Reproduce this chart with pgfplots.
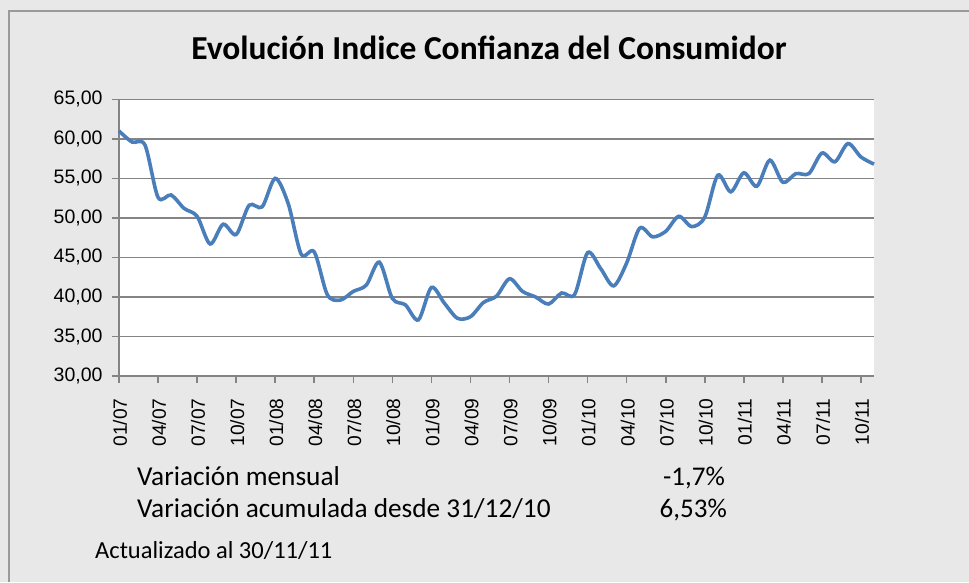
\documentclass[border=0pt]{standalone}
\usepackage{pgfplots}
\pgfplotsset{compat=1.18}
\usepackage{fontspec}
\setmainfont{Carlito}
\newfontfamily\tickfont{Liberation Sans}
\definecolor{bg}{HTML}{E8E8E8}
\definecolor{frame}{HTML}{9A9A9A}
\definecolor{gridc}{HTML}{848484}
\definecolor{linec}{HTML}{4A7EBB}
\pgfplotstableread{
x y
0 61.0
1 59.6
2 59.2
3 52.6
4 52.9
5 51.2
6 50.2
7 46.7
8 49.2
9 47.9
10 51.6
11 51.4
12 55.0
13 51.8
14 45.4
15 45.7
16 40.3
17 39.6
18 40.7
19 41.5
20 44.4
21 39.8
22 39.0
23 37.1
24 41.2
25 39.2
26 37.3
27 37.5
28 39.3
29 40.1
30 42.3
31 40.7
32 40.0
33 39.1
34 40.5
35 40.3
36 45.6
37 43.6
38 41.4
39 44.3
40 48.7
41 47.6
42 48.3
43 50.2
44 48.9
45 50.1
46 55.4
47 53.3
48 55.7
49 54.0
50 57.3
51 54.5
52 55.6
53 55.6
54 58.2
55 57.1
56 59.4
57 57.7
58 56.8
}\datatable
\begin{document}
\begin{tikzpicture}[x=1pt,y=1pt]
\fill[bg] (0,0) rectangle (969,582);
\draw[frame, line width=1.5pt] (9,0) -- (9,571) -- (969,571);
\begin{axis}[
  at={(119pt,206pt)}, anchor=south west,
  scale only axis, width=755pt, height=276.7pt,
  xmin=0, xmax=58, ymin=30, ymax=65,
  axis lines*=left,
  axis line style={gridc, line width=1.6pt},
  axis background/.style={fill=white},
  ymajorgrids, major grid style={gridc, line width=1.6pt},
  ytick={30,35,...,65},
  xtick={0,3,...,57},
  xticklabels={01/07,04/07,07/07,10/07,01/08,04/08,07/08,10/08,01/09,04/09,07/09,10/09,01/10,04/10,07/10,10/10,01/11,04/11,07/11,10/11},
  tick align=outside,
  tick style={gridc, line width=1.6pt},
  major tick length=7pt,
  /pgf/number format/.cd, fixed, fixed zerofill, precision=2, use comma, assume math mode=true,
  /pgfplots/.cd,
  ticklabel style={text=black},
  yticklabel style={font=\tickfont\fontsize{19.5}{24}\selectfont, xshift=-6pt},
  xticklabel style={font=\tickfont\fontsize{19.2}{22}\selectfont, rotate=90, anchor=east, xshift=-12pt, yshift=-1pt},
  clip=false,
]
\addplot[linec, line width=3.6pt, smooth, tension=0.5] table[x=x,y=y] {\datatable};
\end{axis}
\node[anchor=base, font=\bfseries\fontsize{33.5}{40}\selectfont] at (489,522) {Evolución Indice Confianza del Consumidor};
\node[anchor=base west, inner sep=0, font=\fontsize{27.3}{32}\selectfont] at (137,97) {Variación mensual};
\node[anchor=base west, inner sep=0, font=\fontsize{27.3}{32}\selectfont] at (137,65) {Variación acumulada desde 31/12/10};
\node[anchor=base east, inner sep=0, font=\fontsize{27}{32}\selectfont] at (725,97) {-1,7\%};
\node[anchor=base east, inner sep=0, font=\fontsize{27}{32}\selectfont] at (727,65) {6,53\%};
\node[anchor=base west, inner sep=0, font=\fontsize{24.5}{28}\selectfont] at (95,24) {Actualizado al 30/11/11};
\pgfresetboundingbox
\useasboundingbox (0,0) rectangle (969,582);
\end{tikzpicture}
\end{document}
